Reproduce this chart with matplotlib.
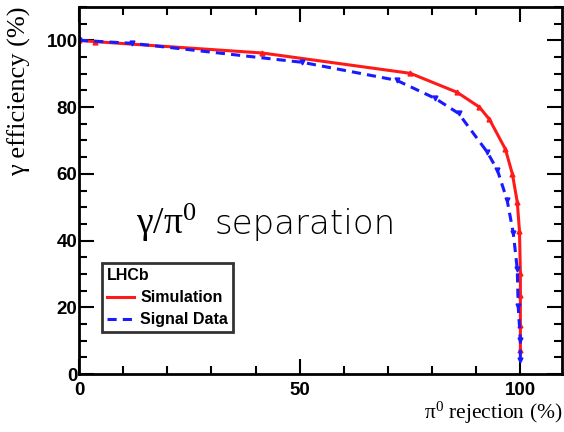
#!/usr/bin/env python3

import matplotlib.pyplot as plt
from matplotlib.ticker import MultipleLocator

# Simulation curve (pi0 rejection %, gamma efficiency %)
sim_rej = [0.0, 3.6, 41.5, 75.1, 85.7, 90.7, 93.0, 96.6, 98.2, 99.3, 99.8, 100.0, 100.0, 100.0, 100.0]
sim_eff = [100.0, 99.6, 96.2, 90.1, 84.4, 80.0, 76.3, 67.4, 59.9, 51.5, 42.8, 30.3, 23.7, 14.7, 7.2]

# Signal data curve
dat_rej = [0.0, 12.0, 50.6, 72.0, 80.7, 86.0, 92.5, 94.8, 97.0, 98.4, 99.3, 99.5, 100.0, 100.0]
dat_eff = [100.0, 99.1, 93.4, 88.0, 82.6, 78.1, 66.5, 61.1, 52.1, 42.2, 31.4, 20.4, 10.2, 4.2]


def plot():
    plt.rcParams['mathtext.fontset'] = 'custom'
    plt.rcParams['mathtext.rm'] = 'Liberation Serif'

    fig = plt.figure(figsize=(5.64, 4.32), dpi=100)
    ax = fig.add_axes([0.140, 0.134, 0.857, 0.850])

    ax.plot(sim_rej, sim_eff, color='#ff1a1a', lw=2.2, marker='^', ms=3.5,
            label='Simulation')
    ax.plot(dat_rej, dat_eff, color='#1a1aff', lw=2.2, ls=(0, (3, 2)),
            marker='v', ms=3.5, label='Signal Data')

    ax.set_xlim(0, 109.5)
    ax.set_ylim(0, 110)
    ax.xaxis.set_major_locator(MultipleLocator(50))
    ax.xaxis.set_minor_locator(MultipleLocator(10))
    ax.yaxis.set_major_locator(MultipleLocator(20))
    ax.yaxis.set_minor_locator(MultipleLocator(5))
    ax.tick_params(which='both', direction='in', top=True, right=True, width=1.5)
    ax.tick_params(which='major', length=11)
    ax.tick_params(which='minor', length=6)
    for lab in ax.get_xticklabels() + ax.get_yticklabels():
        lab.set_fontfamily('Liberation Sans')
        lab.set_fontweight('bold')
        lab.set_fontsize(13.5)
    ax.tick_params(axis='x', pad=6)
    ax.tick_params(axis='y', pad=1)
    for sp in ax.spines.values():
        sp.set_linewidth(2)

    ax.set_xlabel(r'$\mathregular{\pi^0}$ rejection (%)', family='Liberation Serif',
                  fontsize=15.5, loc='right', labelpad=0)
    ax.set_ylabel('\u03b3 efficiency (%)', family='Liberation Serif',
                  fontsize=19, loc='top', labelpad=11)

    ax.text(13.0, 42.0, r'$\mathregular{\gamma/\pi^0}$', fontsize=27,
            family='Liberation Serif', va='baseline')
    ax.text(30.8, 42.0, 'separation', fontsize=24.5, family='DejaVu Sans',
            weight='light', color='black', va='baseline')

    leg = ax.legend(loc='upper left', bbox_to_anchor=(0.048, 0.302),
                    borderaxespad=0, title='LHCb', frameon=True, fancybox=False,
                    prop={'family': 'Liberation Sans', 'weight': 'bold', 'size': 11.5},
                    handlelength=1.7, handletextpad=0.4, borderpad=0.3,
                    labelspacing=0.45, markerscale=0)
    leg.get_title().set_fontweight('bold')
    leg.get_title().set_fontfamily('Liberation Sans')
    leg.get_title().set_fontsize(11.5)
    leg._legend_box.align = 'left'
    leg.get_frame().set_edgecolor('black')
    leg.get_frame().set_linewidth(2)

    plt.savefig('out.png', dpi=100)


if __name__ == '__main__':
    plot()
